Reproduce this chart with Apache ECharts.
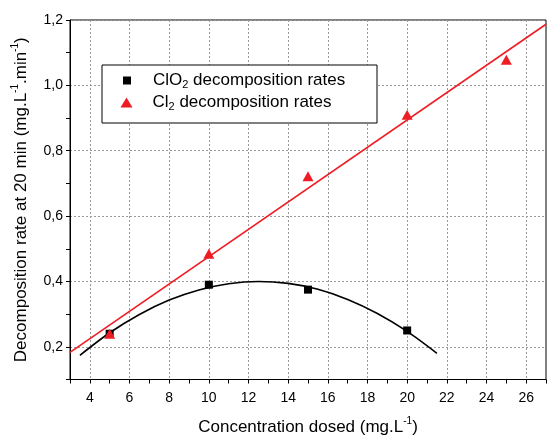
<!DOCTYPE html>
<html>
<head>
<meta charset="utf-8">
<script src="https://cdn.jsdelivr.net/npm/echarts@6/dist/echarts.min.js"></script>
<style>html,body{margin:0;padding:0;background:#fff}#c{width:549px;height:441px}</style>
</head>
<body>
<div id="c"></div>
<script>
// Measured data
const clo2X = [5, 10, 15, 20];
const clo2Y = [0.24, 0.39, 0.375, 0.25];
const cl2X = [5, 10, 15, 20, 25];
const cl2Y = [0.24, 0.485, 0.722, 0.91, 1.078];
// Fitted lines
const cl2FitX = [3, 27];
const cl2FitY = [0.183, 1.187];
const clo2FitX = [3.5, 5, 6.5, 8, 9.5, 11, 12.5, 14, 15.5, 17, 18.5, 20, 21.5];
const clo2FitY = [0.174, 0.243, 0.299, 0.343, 0.374, 0.393, 0.40, 0.394, 0.376, 0.345, 0.302, 0.247, 0.18];
const xTicks = [4, 6, 8, 10, 12, 14, 16, 18, 20, 22, 24, 26];
const yTicks = ['0,2', '0,4', '0,6', '0,8', '1,0', '1,2'];

const zip = (a, b) => a.map((v, i) => [v, b[i]]);
const RED = '#ee1d25';
const FONT = 'Liberation Sans';
const GRID = '#999999';

const chart = echarts.init(document.getElementById('c'), null, {renderer: 'canvas'});
chart.setOption({
  animation: false,
  backgroundColor: '#fff',
  grid: {left: 70, right: 1, top: 20, bottom: 61, show: true, borderColor: '#000', borderWidth: 1, backgroundColor: 'transparent'},
  xAxis: {
    type: 'value', min: 3, max: 27, interval: 1,
    axisLine: {lineStyle: {color: '#000', width: 1}},
    axisTick: {show: true, inside: false, length: 4, lineStyle: {color: '#000'}},
    axisLabel: {
      color: '#000', fontFamily: FONT, fontSize: 14, margin: 12,
      formatter: v => (xTicks.indexOf(v) >= 0 ? String(v) : '')
    },
    splitLine: {show: true, lineStyle: {color: ['transparent', GRID], type: [2, 2], width: 1}},
    name: '{a|Concentration dosed (mg.L}{p|-1}{a|)}',
    nameLocation: 'middle', nameGap: 37,
    nameTextStyle: {
      color: '#000', fontFamily: FONT, fontSize: 17,
      rich: {
        a: {fontFamily: FONT, fontSize: 17, lineHeight: 22, color: '#000'},
        p: {fontFamily: FONT, fontSize: 10, lineHeight: 10, verticalAlign: 'top', color: '#000'}
      }
    }
  },
  yAxis: {
    type: 'value', min: 0.1, max: 1.2, interval: 0.1,
    axisLine: {show: true, lineStyle: {color: '#000', width: 1}},
    axisTick: {show: true, inside: false, length: 4, lineStyle: {color: '#000'}},
    axisLabel: {
      color: '#000', fontFamily: FONT, fontSize: 14, margin: 7,
      formatter: v => {
        const k = Math.round(v * 10);
        return k % 2 === 0 ? yTicks[k / 2 - 1] || '' : '';
      }
    },
    splitLine: {show: true, lineStyle: {color: ['transparent', GRID], type: [2, 2], width: 1}},
    name: '{a|Decomposition rate at 20 min (mg.L}{p|-1}{a|.min}{p|-1}{a|)}',
    nameLocation: 'middle', nameGap: 38, nameRotate: 90,
    nameTextStyle: {
      color: '#000', fontFamily: FONT, fontSize: 17,
      rich: {
        a: {fontFamily: FONT, fontSize: 17, lineHeight: 22, color: '#000'},
        p: {fontFamily: FONT, fontSize: 10, lineHeight: 10, verticalAlign: 'top', color: '#000'}
      }
    }
  },
  graphic: [{
    type: 'rect', z: 5,
    shape: {x: 102, y: 65, width: 275, height: 58},
    style: {fill: '#fff', stroke: '#000', lineWidth: 1}
  }],
  legend: [{
    z: 10, orient: 'vertical', left: 123, top: 72, padding: 0,
    itemWidth: 8, itemHeight: 8,
    data: [{name: 'ClO2', icon: 'rect'}],
    formatter: () => '{a|ClO}{s|2}{a| decomposition rates}',
    textStyle: {
      color: '#000', fontFamily: FONT, fontSize: 17, padding: [0, 0, 0, 17],
      rich: {
        a: {fontFamily: FONT, fontSize: 17, lineHeight: 20, color: '#000'},
        s: {fontFamily: FONT, fontSize: 11, lineHeight: 12, verticalAlign: 'bottom', color: '#000'}
      }
    }
  }, {
    z: 10, orient: 'vertical', left: 120.5, top: 94, padding: 0,
    itemWidth: 12, itemHeight: 10,
    data: [{name: 'Cl2', icon: 'triangle'}],
    formatter: () => '{a|Cl}{s|2}{a| decomposition rates}',
    textStyle: {
      color: '#000', fontFamily: FONT, fontSize: 17, padding: [0, 0, 0, 15],
      rich: {
        a: {fontFamily: FONT, fontSize: 17, lineHeight: 20, color: '#000'},
        s: {fontFamily: FONT, fontSize: 11, lineHeight: 12, verticalAlign: 'bottom', color: '#000'}
      }
    }
  }],
  series: [
    {
      name: 'ClO2 fit', type: 'line', smooth: 0.3, showSymbol: false, silent: true, z: 2,
      data: zip(clo2FitX, clo2FitY),
      lineStyle: {color: '#000', width: 1.6}
    },
    {
      name: 'Cl2 fit', type: 'line', showSymbol: false, silent: true, z: 2,
      data: zip(cl2FitX, cl2FitY),
      lineStyle: {color: RED, width: 1.6}
    },
    {
      name: 'ClO2', type: 'scatter', symbol: 'rect', symbolSize: 8, z: 3,
      data: zip(clo2X, clo2Y),
      itemStyle: {color: '#000', opacity: 1}
    },
    {
      name: 'Cl2', type: 'scatter', symbol: 'triangle', symbolSize: [11, 10], z: 4,
      data: zip(cl2X, cl2Y),
      itemStyle: {color: RED, opacity: 1}
    }
  ]
});
</script>
</body>
</html>
